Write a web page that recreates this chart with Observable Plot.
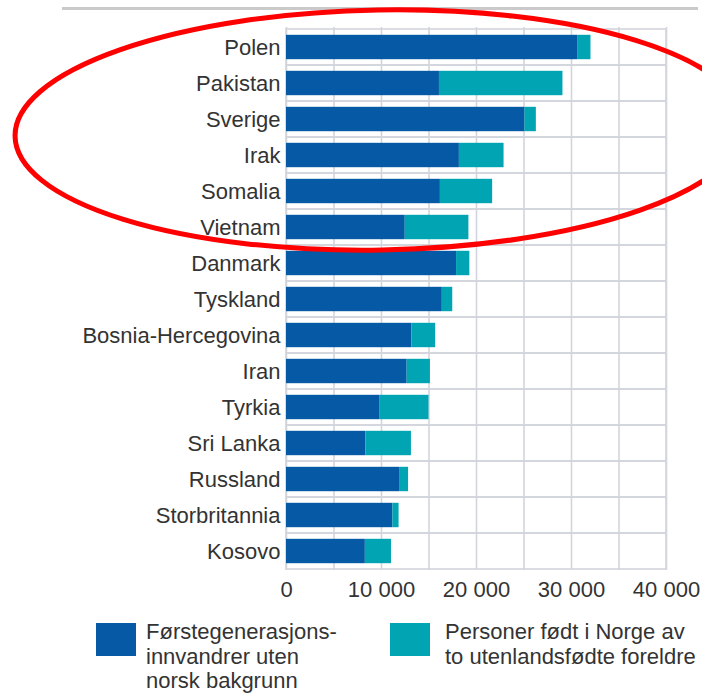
<!DOCTYPE html>
<html><head><meta charset="utf-8">
<script src="https://cdn.jsdelivr.net/npm/d3@7"></script>
<script src="https://cdn.jsdelivr.net/npm/@observablehq/plot@0.6"></script>
<style>
html,body{margin:0;padding:0;background:#fff;}
#wrap{position:relative;width:702px;height:695px;overflow:hidden;font-family:"Liberation Sans",Arial,sans-serif;}
#topline{position:absolute;left:62px;top:7px;width:636px;height:3px;background:#cacaca;}
#chart{position:absolute;left:0;top:0;}
.legtext{position:absolute;font-size:22px;line-height:24.5px;color:#333;white-space:nowrap;}
.sw{position:absolute;width:40px;height:33px;}
#ring{position:absolute;left:0;top:0;pointer-events:none;}
</style></head>
<body>
<div id="wrap">
  <div id="topline"></div>
  <div id="chart"></div>
  <div id="legend"></div>
  <svg id="ring" width="702" height="695"></svg>
</div>
<script>
// ---- data ----
const countries = ["Polen","Pakistan","Sverige","Irak","Somalia","Vietnam","Danmark","Tyskland","Bosnia-Hercegovina","Iran","Tyrkia","Sri Lanka","Russland","Storbritannia","Kosovo"];
const firstGen   = [30700,16100,25100,18200,16200,12500,17900,16400,13200,12700,9800,8350,11900,11200,8300];
const bornNorway = [1350,13000,1200,4700,5500,6700,1400,1100,2500,2450,5200,4800,950,650,2750];
const seriesNames = ["Førstegenerasjonsinnvandrer uten norsk bakgrunn","Personer født i Norge av to utenlandsfødte foreldre"];
const legendLines = [["Førstegenerasjons-","innvandrer uten","norsk bakgrunn"],["Personer født i Norge av","to utenlandsfødte foreldre"]];
const seriesColors = ["#0659a5","#00a4b3"];
const xTicks = [0,10000,20000,30000,40000];
const gridTicks = [0,5000,10000,15000,20000,25000,30000,35000,40000];
const xDomain = [0,40000];

// ---- table ----
const rows = [];
countries.forEach((c,i)=>{
  rows.push({country:c, series:seriesNames[0], value:firstGen[i]});
  rows.push({country:c, series:seriesNames[1], value:bornNorway[i]});
});

const fmt = d3.formatLocale({thousands:" ", grouping:[3], decimal:","}).format(",");
const gridColor = "#d3d5dc";

const plot = Plot.plot({
  width: 702,
  height: 612,
  marginTop: 27,
  marginBottom: 42,
  marginLeft: 286,
  marginRight: 36,
  style: {fontSize:"22px", fontFamily:"'Liberation Sans', Arial, sans-serif", color:"#333", background:"transparent", overflow:"visible"},
  x: {domain: xDomain},
  y: {domain: countries, padding: 0},
  color: {domain: seriesNames, range: seriesColors},
  marks: [
    Plot.ruleX(gridTicks, {stroke: gridColor, strokeWidth: 1.6}),
    Plot.barX(countries, {x1: () => xDomain[0], x2: () => xDomain[1], y: d => d, fill: "none", stroke: gridColor, strokeWidth: 1.6}),
    Plot.barX(rows, {x: "value", y: "country", fill: "series", insetTop: 5.8, insetBottom: 5.8}),
    Plot.axisX({ticks: xTicks, tickFormat: fmt, tickSize: 0, tickPadding: 11, label: null, fill: "#333"}),
    Plot.axisY({tickSize: 0, tickPadding: 6, label: null, fill: "#333"})
  ]
});
document.getElementById("chart").appendChild(plot);

// ---- legend ----
const legend = d3.select("#legend");
const legPos = [{sx:96, tx:146}, {sx:390, tx:445}];
legendLines.forEach((lines,i)=>{
  legend.append("div").attr("class","sw")
    .style("left", legPos[i].sx+"px").style("top","623px")
    .style("background", seriesColors[i]);
  legend.append("div").attr("class","legtext")
    .style("left", legPos[i].tx+"px").style("top","620px")
    .html(lines.join("<br>"));
});

// ---- red annotation ellipse ----
d3.select("#ring").append("ellipse")
  .attr("cx",380).attr("cy",130).attr("rx",365).attr("ry",120)
  .attr("transform","rotate(-1 380 130)")
  .attr("fill","none").attr("stroke","#f00").attr("stroke-width",5);
</script>
</body></html>
